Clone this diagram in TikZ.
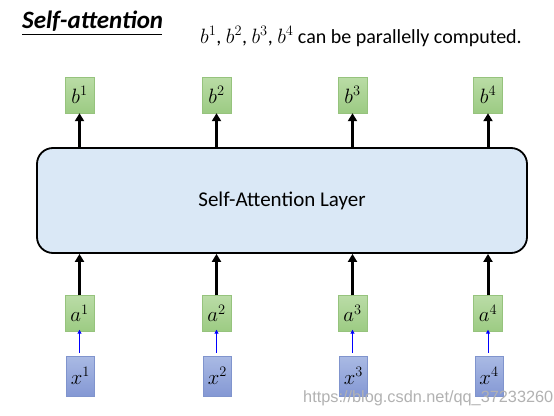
\documentclass[tikz,border=0pt]{standalone}
\usepackage{fontspec}
\setmainfont{Carlito}
\newfontfamily\wmfont{Liberation Sans}
\usetikzlibrary{arrows.meta}
\DeclareMathSizes{20}{20}{15}{11}
\DeclareMathSizes{20.5}{20.5}{15}{11}
\definecolor{gtop}{RGB}{186,220,166}
\definecolor{gbot}{RGB}{156,203,131}
\definecolor{gbd}{RGB}{150,195,125}
\definecolor{btop}{RGB}{170,186,228}
\definecolor{bbot}{RGB}{132,152,212}
\definecolor{bbd}{RGB}{128,148,205}
\definecolor{layerfill}{RGB}{218,232,246}
\tikzset{
  gbox/.style={minimum width=29pt, minimum height=36pt, inner sep=0pt, top color=gtop, bottom color=gbot, draw=gbd, line width=0.4pt, font=\fontsize{20}{20}\selectfont},
  xbox/.style={minimum width=28pt, minimum height=40pt, inner sep=0pt, top color=btop, bottom color=bbot, draw=bbd, line width=0.4pt, font=\fontsize{20}{20}\selectfont},
  bigarrow/.style={-{Triangle[length=8pt,width=9pt]}, line width=3pt, black},
  smallarrow/.style={-{Triangle[length=4pt,width=4pt]}, line width=1pt, blue},
}
\begin{document}
\begin{tikzpicture}[x=1pt,y=-1pt]
\useasboundingbox (0,0) rectangle (554,415);
\fill[white] (0,0) rectangle (554,415);
% title
\node[anchor=base west, inner sep=0pt, font=\fontsize{25}{25}\selectfont\bfseries\itshape] (title) at (22,28) {Self-attention};
\draw[line width=1pt] (22,34) -- (162,34);
\node[anchor=base west, inner sep=0pt, font=\fontsize{20}{20}\selectfont] (sub) at (200,43) {$b^1$, $b^2$, $b^3$, $b^4$ can be parallelly computed.};
% layer
\node[draw=black, line width=1.8pt, rounded corners=16pt, fill=layerfill, minimum width=490pt, minimum height=105pt, inner sep=0pt, font=\fontsize{21}{21}\selectfont] (layer) at (282,200.5) {Self-Attention Layer};
% columns
\foreach \i/\cx in {1/79.5,2/216.5,3/352.5,4/488}{
  \node[gbox] (b\i) at (\cx,95) {$b^{\i}$};
  \node[gbox] (a\i) at (\cx,313.5) {$a^{\i}$};
  \node[xbox] (x\i) at (\cx+1,376) {$x^{\i}$};
  \draw[bigarrow] (b\i.south |- layer.north) -- (b\i.south);
  \draw[bigarrow] (a\i.north) -- (a\i.north |- layer.south);
  \path (x\i.north -| a\i.south) ++(0,-3) coordinate (xs\i);
  \draw[smallarrow] (xs\i) -- ([yshift=2pt]a\i.south);
}
% watermark
\node[anchor=base west, inner sep=0pt, text=black!30, font=\wmfont\fontsize{16.3}{16.3}\selectfont] (wm) at (303,402) {https://blog.csdn.net/qq\_37233260};
\end{tikzpicture}
\end{document}
